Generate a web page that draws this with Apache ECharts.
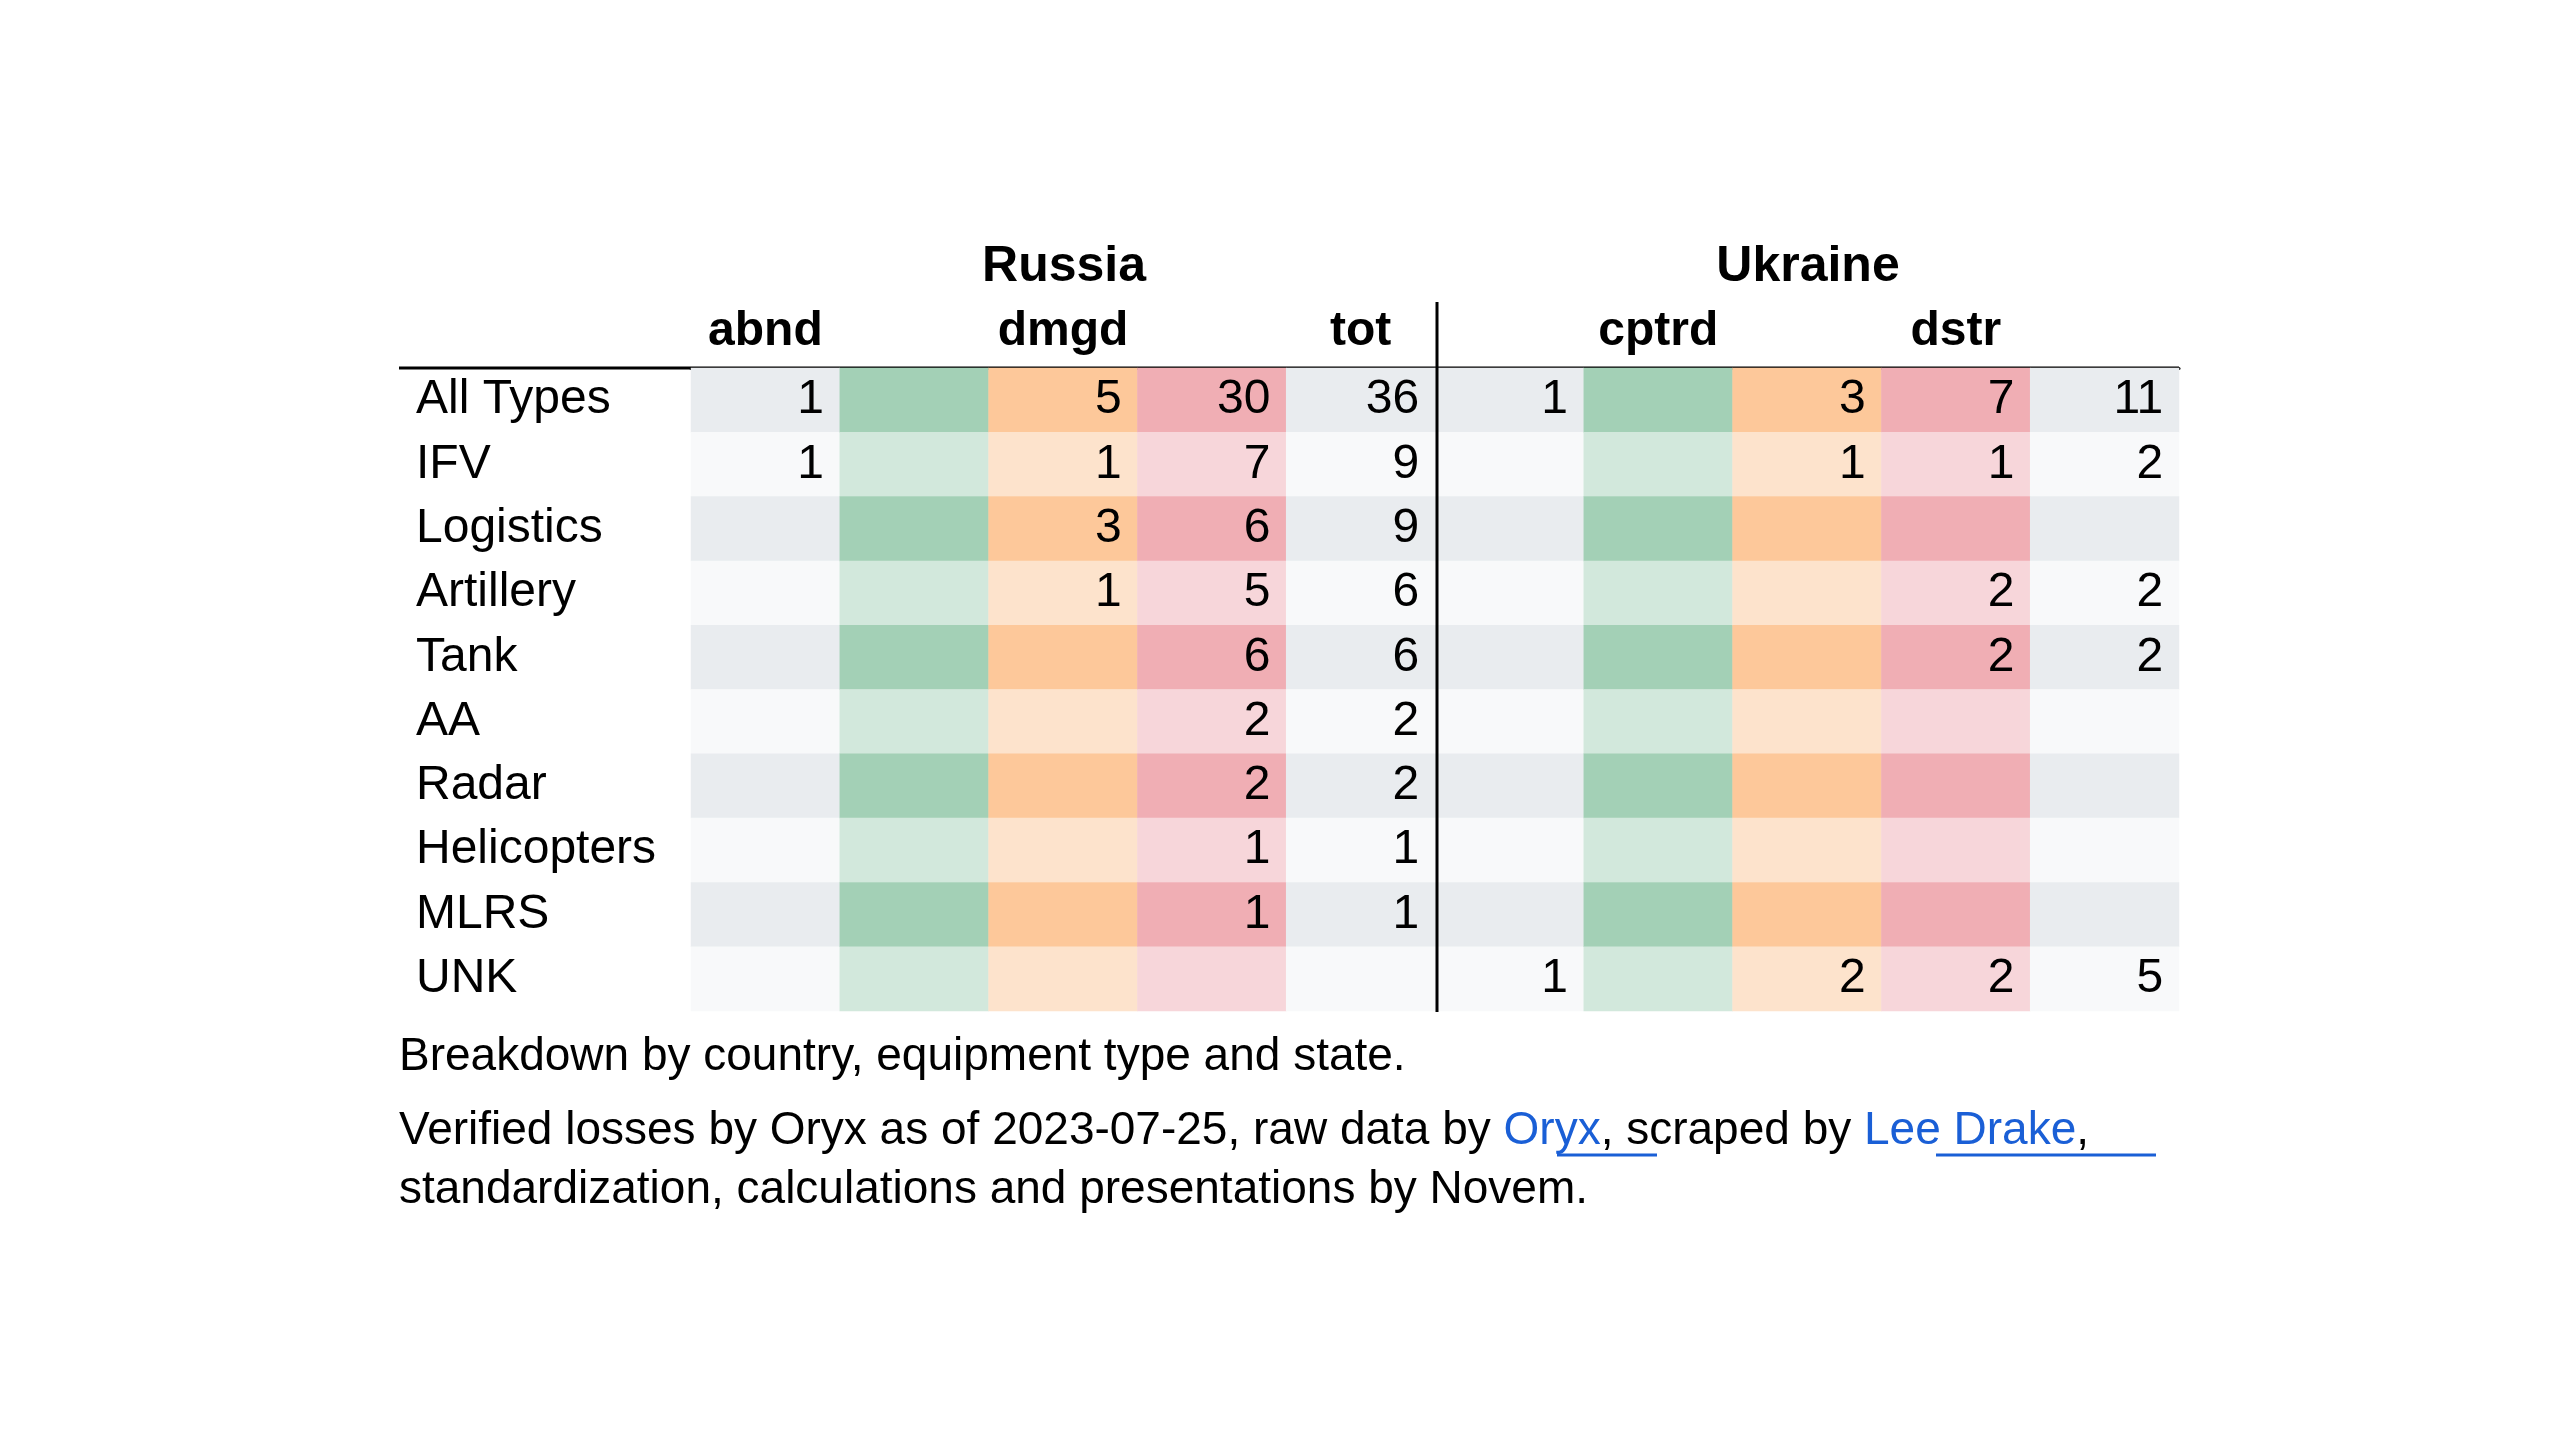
<!DOCTYPE html>
<html>
<head>
<meta charset="utf-8">
<script src="https://cdn.jsdelivr.net/npm/echarts@6/dist/echarts.min.js"></script>
<style>html,body{margin:0;background:#fff}#c{width:2560px;height:1440px}</style>
</head>
<body>
<div id="c"></div>
<script>
const rows = ["All Types", "IFV", "Logistics", "Artillery", "Tank", "AA", "Radar", "Helicopters", "MLRS", "UNK"];
const cols = ["abnd", "cptrd", "dmgd", "dstr", "tot", "abnd", "cptrd", "dmgd", "dstr", "tot"];
// Russia
const ruAbnd  = [1, 1, null, null, null, null, null, null, null, null];
const ruCptrd = [null, null, null, null, null, null, null, null, null, null];
const ruDmgd  = [5, 1, 3, 1, null, null, null, null, null, null];
const ruDstr  = [30, 7, 6, 5, 6, 2, 2, 1, 1, null];
const ruTot   = [36, 9, 9, 6, 6, 2, 2, 1, 1, null];
// Ukraine
const uaAbnd  = [1, null, null, null, null, null, null, null, null, 1];
const uaCptrd = [null, null, null, null, null, null, null, null, null, null];
const uaDmgd  = [3, 1, null, null, null, null, null, null, null, 2];
const uaDstr  = [7, 1, null, 2, 2, null, null, null, null, 2];
const uaTot   = [11, 2, null, 2, 2, null, null, null, null, 5];

const columns = [ruAbnd, ruCptrd, ruDmgd, ruDstr, ruTot, uaAbnd, uaCptrd, uaDmgd, uaDstr, uaTot];
// [dark, light] per state
const shades = {
  abnd: ["#e9ecef", "#f8f9fa"], tot: ["#e9ecef", "#f8f9fa"],
  cptrd: ["#a3d0b6", "#d2e8dc"], dmgd: ["#fdc89a", "#fde3cc"], dstr: ["#f0aeb4", "#f7d6da"]
};

const data = [];
columns.forEach((col, x) => {
  col.forEach((v, y) => {
    data.push({ value: [x, y, v == null ? 0 : v], raw: v,
      itemStyle: { color: shades[cols[x]][y % 2] } });
  });
});

const FONT = "Liberation Sans";
const chart = echarts.init(document.getElementById("c"));
chart.setOption({
  backgroundColor: "#fff",
  animation: false,
  textStyle: { fontFamily: FONT },
  grid: { left: 691, right: 381, top: 368, height: 643 },
  xAxis: {
    type: "category", data: cols, position: "top",
    axisLine: { show: true, lineStyle: { color: "#000", width: 3 } },
    axisTick: { show: false }, splitLine: { show: false },
    axisLabel: { fontFamily: FONT, fontSize: 48, fontWeight: "bold", color: "#000", margin: 12 }
  },
  yAxis: {
    type: "category", data: rows, inverse: true,
    axisLine: { show: false }, axisTick: { show: false },
    axisLabel: { fontFamily: FONT, fontSize: 48, color: "#000", align: "left", margin: 275 }
  },
  series: [{
    type: "heatmap", data: data,
    label: {
      show: true, position: "insideRight", distance: 16,
      fontFamily: FONT, fontSize: 48, color: "#000",
      formatter: p => p.data.raw == null ? "" : String(p.data.raw)
    }
  }],
  graphic: [
    { type: "line", shape: { x1: 399, y1: 368, x2: 2179, y2: 368 }, style: { stroke: "#000", lineWidth: 3 } },
    { type: "line", shape: { x1: 1437, y1: 302, x2: 1437, y2: 1012 }, style: { stroke: "#000", lineWidth: 3 }, z: 10 },
    { type: "text", x: 1064, y: 267, style: { text: "Russia", font: "bold 50px " + FONT, fill: "#000", textAlign: "center", textVerticalAlign: "middle" } },
    { type: "text", x: 1808, y: 267, style: { text: "Ukraine", font: "bold 50px " + FONT, fill: "#000", textAlign: "center", textVerticalAlign: "middle" } },
    { type: "text", x: 399, y: 1057, style: { text: "Breakdown by country, equipment type and state.", font: "46px " + FONT, fill: "#000", textVerticalAlign: "middle" } },
    { type: "text", x: 399, y: 1131, style: {
      text: "Verified losses by Oryx as of 2023-07-25, raw data by {l|Oryx}, scraped by {l|Lee Drake},",
      font: "46px " + FONT, fill: "#000", textVerticalAlign: "middle",
      rich: { l: { fill: "#1a5fd6", font: "46px " + FONT } } } },
    { type: "line", shape: { x1: 1557, y1: 1155, x2: 1657, y2: 1155 }, style: { stroke: "#1a5fd6", lineWidth: 3 } },
    { type: "line", shape: { x1: 1936, y1: 1155, x2: 2156, y2: 1155 }, style: { stroke: "#1a5fd6", lineWidth: 3 } },
    { type: "text", x: 399, y: 1190, style: { text: "standardization, calculations and presentations by Novem.", font: "46px " + FONT, fill: "#000", textVerticalAlign: "middle" } }
  ]
});
</script>
</body>
</html>
